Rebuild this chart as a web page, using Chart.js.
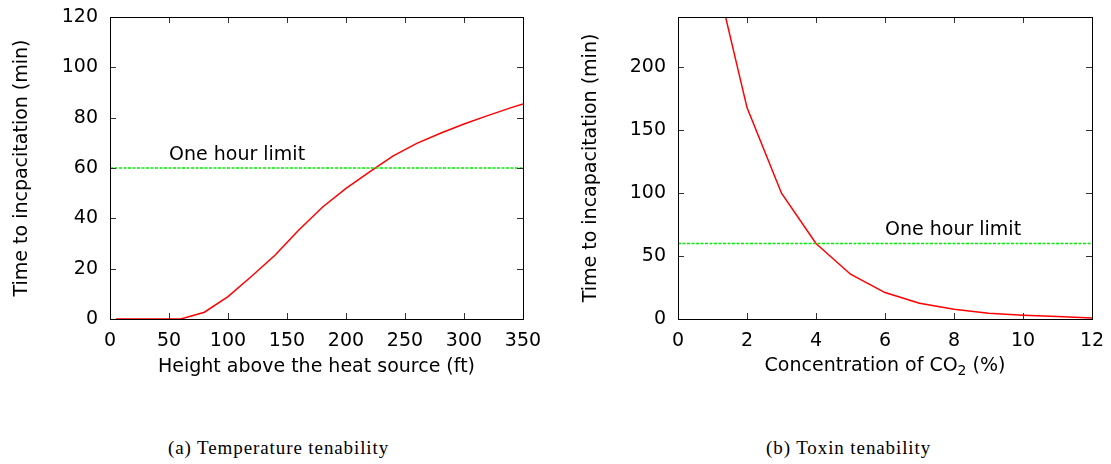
<!DOCTYPE html>
<html>
<head>
<meta charset="utf-8">
<script src="https://cdn.jsdelivr.net/npm/chart.js@4"></script>
<style>
  body { margin: 0; background: #fff; width: 1111px; height: 464px; position: relative; overflow: hidden; }
  .box { position: absolute; top: 0; width: 555px; height: 400px; }
  .cap { position: absolute; top: 437px; font: 19px "Liberation Serif", "Times New Roman", serif; letter-spacing: 0.9px; color: #000; white-space: nowrap; }
</style>
</head>
<body>
<div class="box" style="left:0"><canvas id="temp" width="555" height="400"></canvas></div>
<div class="box" style="left:556px"><canvas id="toxin" width="555" height="400"></canvas></div>
<div class="cap" style="left:168px">(a) Temperature tenability</div>
<div class="cap" style="left:766px">(b) Toxin tenability</div>
<script>
// (a) temperature tenability
const heightFt = [5, 20, 40, 60, 80, 100, 120, 140, 160, 180, 200, 220, 240, 260, 280, 300, 320, 340, 350];
const tempMinutes = [0, 0, 0, 0, 2.7, 8.9, 17, 25.4, 35.4, 44.4, 51.9, 58.5, 64.8, 69.8, 73.8, 77.5, 80.8, 84, 85.4];
const tempLimitX = [0, 350];

// (b) toxin tenability
const co2Pct = [1, 2, 3, 4, 5, 6, 7, 8, 9, 10, 11, 12];
const co2Minutes = [284, 168, 100, 60, 35.6, 21, 12.5, 7.7, 4.5, 2.9, 1.9, 0.8];
const co2LimitX = [0, 12];

const limitMinutes = [60, 60];
const limitText = 'One hour limit';

const FONT = '"DejaVu Sans", "Liberation Sans", Arial, sans-serif';
Chart.defaults.font.family = FONT;
Chart.defaults.font.size = 19;
Chart.defaults.color = '#000';

const pts = (xs, ys) => xs.map((x, i) => ({ x, y: ys[i] }));

// gnuplot style box with inward ticks on all four sides
const frame = {
  id: 'frame',
  afterDraw(chart) {
    const { ctx, chartArea: a, scales } = chart;
    ctx.save();
    ctx.strokeStyle = '#333';
    ctx.lineWidth = 1;
    ctx.beginPath();
    scales.x.ticks.forEach(t => {
      const px = Math.round(scales.x.getPixelForValue(t.value)) + 0.5;
      ctx.moveTo(px, a.bottom); ctx.lineTo(px, a.bottom - 6);
      ctx.moveTo(px, a.top); ctx.lineTo(px, a.top + 6);
    });
    scales.y.ticks.forEach(t => {
      const py = Math.round(scales.y.getPixelForValue(t.value)) + 0.5;
      ctx.moveTo(a.left, py); ctx.lineTo(a.left + 6, py);
      ctx.moveTo(a.right, py); ctx.lineTo(a.right - 6, py);
    });
    ctx.stroke();
    ctx.strokeStyle = '#000';
    ctx.strokeRect(Math.round(a.left) + 0.5, Math.round(a.top) + 0.5,
      Math.round(a.right - a.left), Math.round(a.bottom - a.top));
    ctx.restore();
  }
};

const limitLabel = {
  id: 'limitLabel',
  afterDatasetsDraw(chart, args, opts) {
    const { ctx, scales } = chart;
    ctx.save();
    ctx.font = '19px ' + FONT;
    ctx.fillStyle = '#000';
    ctx.textBaseline = 'middle';
    ctx.fillText(limitText, scales.x.getPixelForValue(opts.x), scales.y.getPixelForValue(opts.y));
    ctx.restore();
  }
};

// x title with a subscript part: [text, sub, text]
const subTitle = {
  id: 'subTitle',
  afterDraw(chart, args, opts) {
    if (!opts.parts) return;
    const { ctx, chartArea: a } = chart;
    const [pre, sub, post] = opts.parts;
    ctx.save();
    ctx.fillStyle = '#000';
    ctx.textBaseline = 'middle';
    ctx.textAlign = 'left';
    const big = '19px ' + FONT, small = '14px ' + FONT;
    ctx.font = big;
    const w1 = ctx.measureText(pre).width, w3 = ctx.measureText(post).width;
    ctx.font = small;
    const w2 = ctx.measureText(sub).width;
    let x = (a.left + a.right) / 2 - (w1 + w2 + w3) / 2;
    const y = a.bottom + 47;
    ctx.font = big; ctx.fillText(pre, x, y); x += w1;
    ctx.font = small; ctx.fillText(sub, x, y + 5); x += w2;
    ctx.font = big; ctx.fillText(post, x, y);
    ctx.restore();
  }
};

function makeChart(id, cfg) {
  return new Chart(document.getElementById(id), {
    type: 'line',
    data: {
      datasets: [
        {
          data: pts(cfg.limitX, limitMinutes),
          borderColor: '#00ee00',
          borderWidth: 1.6,
          borderDash: [3, 1.5],
          pointRadius: 0,
        },
        {
          data: pts(cfg.xs, cfg.ys),
          borderColor: '#ff0000',
          borderWidth: 1.5,
          pointRadius: 0,
          tension: 0,
        }
      ]
    },
    options: {
      responsive: false,
      animation: false,
      events: [],
      layout: { padding: { top: 17, right: cfg.padRight, left: 0, bottom: 0 } },
      plugins: {
        legend: { display: false },
        tooltip: { enabled: false },
        limitLabel: cfg.label,
        subTitle: { parts: cfg.xTitleParts },
      },
      scales: {
        x: {
          type: 'linear',
          min: cfg.limitX[0], max: cfg.limitX[1],
          grid: { display: false, drawTicks: false },
          border: { display: false },
          ticks: { stepSize: cfg.xStep, padding: 11, maxRotation: 0 },
          title: { display: !!cfg.xTitle, text: cfg.xTitle, padding: { top: 0, bottom: 22 } },
          afterFit: s => { s.height = 81; s.paddingLeft = 0; s.paddingRight = 0; },
        },
        y: {
          min: 0, max: cfg.yMax,
          grid: { display: false, drawTicks: false },
          border: { display: false },
          ticks: { stepSize: cfg.yStep, padding: 12 },
          afterBuildTicks: s => { s.ticks = s.ticks.filter(t => t.value % cfg.yStep === 0); },
          title: { display: true, text: cfg.yTitle, padding: { top: cfg.yTitlePad, bottom: 0 } },
          afterFit: s => { s.width = cfg.yWidth; s.paddingTop = 0; s.paddingBottom = 0; },
        }
      }
    },
    plugins: [frame, limitLabel, subTitle]
  });
}

makeChart('temp', {
  xs: heightFt, ys: tempMinutes, limitX: tempLimitX,
  xStep: 50, yStep: 20, yMax: 120,
  xTitle: 'Height above the heat source (ft)',
  yTitle: 'Time to incpacitation (min)',
  yWidth: 110, yTitlePad: 11, padRight: 32,
  label: { x: 50, y: 65.2 },
});

makeChart('toxin', {
  xs: co2Pct, ys: co2Minutes, limitX: co2LimitX,
  xStep: 2, yStep: 50, yMax: 240,
  xTitleParts: ['Concentration of CO', '2', ' (%)'],
  yTitle: 'Time to incapacitation (min)',
  yWidth: 122, yTitlePad: 24, padRight: 19,
  label: { x: 6, y: 70.9 },
});
</script>
</body>
</html>
